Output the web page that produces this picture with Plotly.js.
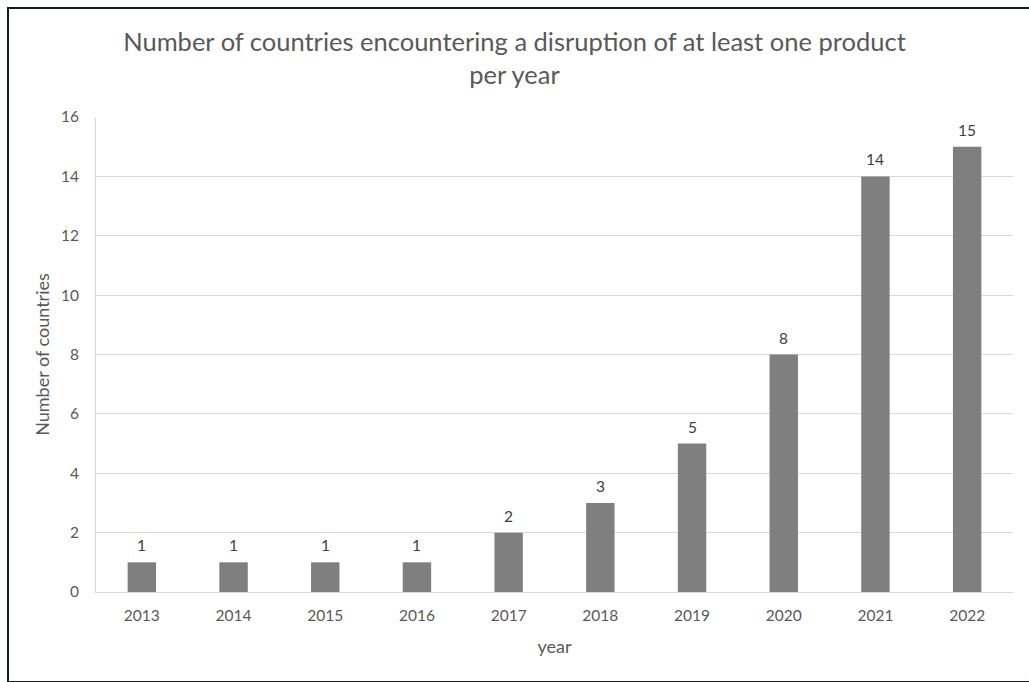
<!DOCTYPE html>
<html>
<head>
<meta charset="utf-8">
<script src="https://cdn.plot.ly/plotly-3.0.1.min.js"></script>
<style>
html,body{margin:0;padding:0;background:#fff;}
#wrap{position:relative;width:1029px;height:682px;overflow:hidden;}
#chart{width:1029px;height:682px;}
#frame{position:absolute;left:7px;top:7px;width:1040px;height:672px;border-left:2px solid #141a26;border-top:2px solid #141a26;border-bottom:2px solid #141a26;pointer-events:none;box-sizing:content-box;}
</style>
</head>
<body>
<div id="wrap"><div id="chart"></div><div id="frame"></div></div>
<script>
var years = ['2013','2014','2015','2016','2017','2018','2019','2020','2021','2022'];
var countries = [1, 1, 1, 1, 2, 3, 5, 8, 14, 15];
var yTicks = [0, 2, 4, 6, 8, 10, 12, 14, 16];

var FONT = 'Lato, "Open Sans", sans-serif';
var TXT = '#595959';

var trace = {
  type: 'bar',
  x: years,
  y: countries,
  marker: {color: '#7f7f7f'},
  hoverinfo: 'x+y'
};

var labels = years.map(function (yr, i) {
  return {
    x: i, y: countries[i], xref: 'x', yref: 'y',
    text: String(countries[i]), showarrow: false,
    yanchor: 'middle', yshift: 17,
    font: {family: FONT, size: 15.5, color: '#404040'}
  };
});

var layout = {
  width: 1029, height: 682,
  margin: {l: 96, r: 16, t: 117, b: 90},
  paper_bgcolor: '#ffffff', plot_bgcolor: '#ffffff',
  bargap: 0.69,
  showlegend: false,
  annotations: labels,
  title: {
    text: 'Number of countries encountering a disruption of at least one product<br>per year',
    font: {family: FONT, size: 25.5, color: TXT},
    x: 0.5, xanchor: 'center', y: 0.925, yanchor: 'top'
  },
  xaxis: {
    type: 'category',
    categoryorder: 'array', categoryarray: years,
    range: [-0.5, years.length - 0.5],
    showgrid: false,
    showline: true, linecolor: '#d9d9d9', linewidth: 1,
    ticks: '', ticklabelstandoff: 9,
    tickfont: {family: FONT, size: 15.5, color: TXT},
    title: {text: 'year', font: {family: FONT, size: 18, color: TXT}, standoff: 17}
  },
  yaxis: {
    range: [0, 16],
    tickvals: yTicks,
    ticktext: yTicks.map(String),
    showgrid: true, gridcolor: '#d9d9d9', gridwidth: 1,
    zeroline: false,
    showline: true, linecolor: '#d9d9d9', linewidth: 1,
    ticks: '', ticklabelstandoff: 13,
    tickfont: {family: FONT, size: 15.5, color: TXT},
    title: {text: 'Number of countries', font: {family: FONT, size: 18, color: TXT}, standoff: 6}
  }
};

Plotly.newPlot('chart', [trace], layout, {displayModeBar: false, staticPlot: true});
</script>
</body>
</html>
